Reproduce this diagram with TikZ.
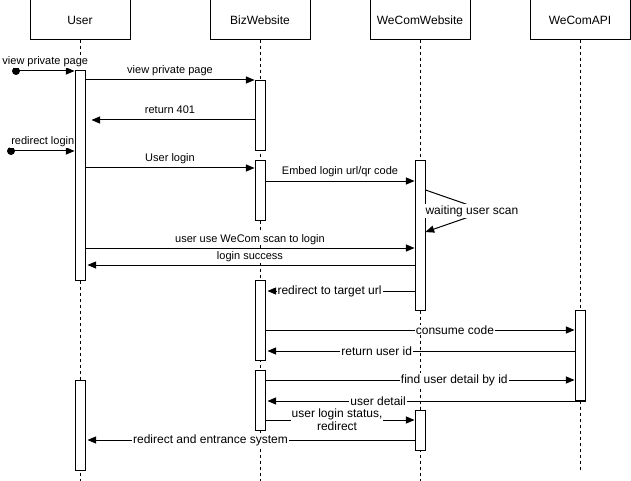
\documentclass[tikz,border=0pt]{standalone}
\usepackage{fontspec}
\setmainfont{Liberation Sans}
\usetikzlibrary{arrows}

\begin{document}
\begin{tikzpicture}[x=1pt,y=-1pt,>=triangle 45,line width=1pt,
		head/.style={draw,minimum width=100pt,minimum height=40pt,inner sep=0pt,font=\fontsize{12pt}{14pt}\selectfont},
		life/.style={dash pattern=on 3pt off 3pt},
		bar/.style={draw,fill=white,minimum width=10pt,inner sep=0pt,anchor=north},
		msg/.style={->},
		back/.style={->,shorten >=2pt},
		lbl/.style={font=\fontsize{12pt}{13pt}\selectfont,fill=white,inner sep=1pt},
		over/.style={lbl,font=\fontsize{11pt}{13pt}\selectfont,anchor=base,yshift=6pt}]
		\useasboundingbox (0,0) rectangle (631,481);

		% The heads
		\node[head] (user) at (80,20) {User};
		\node[head] (biz) at (260,20) {BizWebsite};
		\node[head] (wcweb) at (420,20) {WeComWebsite};
		\node[head] (wcapi) at (580,20) {WeComAPI};

		% The lifelines
		\coordinate (bottom) at (0,481);
		\coordinate (apiend) at (580,470);
		\foreach \who in {user,biz,wcweb}
		{
			\draw[life] (\who) -- (\who |- bottom);
		}
		\draw[life] (wcapi) -- (apiend);

		% The activation bars
		\node[bar,minimum height=210pt] (u1) at (80,70) {};
		\node[bar,minimum height=90pt] (u2) at (80,380) {};
		\node[bar,minimum height=70pt] (b1) at (260,80) {};
		\node[bar,minimum height=60pt] (b2) at (260,160) {};
		\node[bar,minimum height=80pt] (b3) at (260,280) {};
		\node[bar,minimum height=60pt] (b4) at (260,370) {};
		\node[bar,minimum height=150pt] (w1) at (420,160) {};
		\node[bar,minimum height=40pt] (w2) at (420,410) {};
		\node[bar,minimum height=90pt] (a1) at (580,310) {};

		% The found messages
		\coordinate (f1) at (16,71);
		\coordinate (f2) at (11,151);
		\fill (f1) circle (4pt);
		\fill (f2) circle (4pt);
		\draw[msg] (f1) -- (u1.west |- f1) node[over,midway] {view private page};
		\draw[msg] (f2) -- (u1.west |- f2) node[over,midway] {redirect login};

		% The messages
		\draw[msg] (u1.east |- 0,80) -- (b1.west |- 0,80) node[over,midway] {view private page};
		\draw[back,shorten >=6pt] (b1.west |- 0,120) -- (u1.east |- 0,120) node[over,midway] {return 401};
		\draw[msg] (u1.east |- 0,168) -- (b2.west |- 0,168) node[over,midway] {User login};
		\draw[msg] (b2.east |- 0,181) -- (w1.west |- 0,181) node[over,midway] {Embed login url/qr code};
		\coordinate (bend) at (486,211);
		\draw[msg] (w1.east |- 0,190) -- (bend) -- (w1.east |- 0,232);
		\node[lbl,anchor=west,inner sep=1.5pt] (scan) at (423.5,211) {waiting user scan};
		\draw[msg] (u1.east |- 0,248) -- (w1.west |- 0,248) node[over,midway] {user use WeCom scan to login};
		\draw[back] (w1.west |- 0,265) -- (u1.east |- 0,265) node[over,midway] {login success};
		\draw[back] (w1.west |- 0,291) -- (b3.east |- 0,291) node[lbl,pos=0.57] {redirect to target url};
		\draw[msg] (b3.east |- 0,330) -- (a1.west |- 0,330) node[lbl,pos=0.613] {consume code};
		\draw[back] (a1.west |- 0,351) -- (b3.east |- 0,351) node[lbl,pos=0.64] {return user id};
		\draw[msg] (b4.east |- 0,380) -- (a1.west |- 0,380) node[lbl,pos=0.611] {find user detail by id};
		\draw[back] (a1.south east) -- (b4.east |- a1.south) node[lbl,pos=0.648] {user detail};
		\draw[msg] (b4.east |- 0,420) -- (w2.west |- 0,420) node[lbl,pos=0.48,align=center] {user login status,\\redirect};
		\draw[back] (w2.west |- 0,440) -- (u2.east |- 0,440) node[lbl,pos=0.62] {redirect and entrance system};
	\end{tikzpicture}
\end{document}
